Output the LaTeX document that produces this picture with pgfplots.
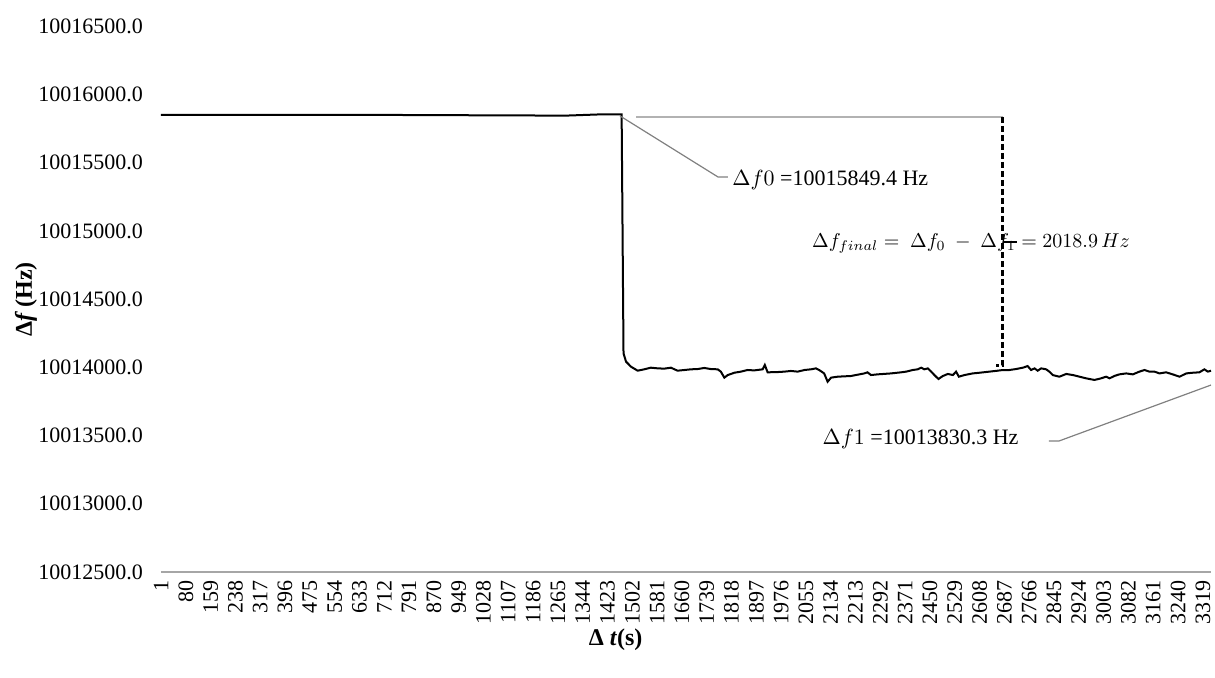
\documentclass[border=0pt]{standalone}
\usepackage{fontspec}
\setmainfont{Liberation Serif}
\usepackage{pgfplots}
\pgfplotsset{compat=1.18}
\def\myshift#1.#2\relax{\the\numexpr#1-10012500\relax}
\begin{document}
\begin{tikzpicture}
\useasboundingbox (-80.5pt,-52.5pt) rectangle (527pt,286pt);
\begin{axis}[
  scale only axis, width=525pt, height=272.8pt,
  xmin=1, xmax=3345, ymin=0, ymax=4000,
  ytick={0,500,1000,1500,2000,2500,3000,3500,4000},
  yticklabels={10012500.0,10013000.0,10013500.0,10014000.0,10014500.0,10015000.0,10015500.0,10016000.0,10016500.0},
  axis x line=bottom, axis y line=left,
  x axis line style={-, draw=gray!70, line width=0.6pt},
  y axis line style={draw=none},
  major tick length=0pt, tick style={draw=none},
  xtick={1,80,...,3319},
  xticklabel={\pgfmathprintnumber[fixed,precision=0,1000 sep={}]{\tick}},
  scaled x ticks=false, scaled y ticks=false,
  /pgf/number format/assume math mode=true,
  xticklabel style={rotate=90, anchor=east, font=\fontsize{11}{12}\selectfont, inner sep=4pt},
  yticklabel style={font=\fontsize{11}{12}\selectfont, xshift=-5.5pt},
  ylabel={\textbf{Δ\textit{f}\,(Hz)}},
  ylabel style={at={(axis description cs:-0.1286,0.5)}, anchor=center, font=\fontsize{12}{14}\selectfont},
  xlabel={\textbf{Δ \textit{t}(s)}},
  xlabel style={at={(axis description cs:0.433,-0.1245)}, anchor=center, font=\fontsize{12}{14}\selectfont},
  clip=false,
]
\addplot[black, line width=1pt,
  y filter/.code={\pgfmathfloattofixed{#1}\edef\mytmp{\expandafter\myshift\pgfmathresult.\relax}\pgfmathfloatparsenumber{\mytmp}}] coordinates {
(1,10015852) (600,10015852) (1290,10015846) (1400,10015855) (1468,10015855)
(1474,10014103) (1482,10014042) (1498,10014005) (1519,10013976) (1540,10013986)
(1561,10013998) (1583,10013993) (1604,10013991) (1625,10013998) (1646,10013976)
(1668,10013981) (1689,10013986) (1710,10013988) (1731,10013996) (1752,10013988)
(1774,10013986) (1784,10013969) (1795,10013925) (1806,10013944) (1827,10013961)
(1848,10013969) (1869,10013981) (1890,10013978) (1917,10013986) (1924,10014018)
(1933,10013964) (1965,10013966) (1986,10013969) (2007,10013974) (2029,10013969)
(2050,10013981) (2071,10013986) (2087,10013993) (2097,10013981) (2113,10013956)
(2124,10013895) (2135,10013925) (2156,10013932) (2198,10013937) (2241,10013956)
(2251,10013964) (2262,10013944) (2283,10013949) (2326,10013956) (2358,10013964)
(2374,10013969) (2395,10013981) (2411,10013986) (2422,10013998) (2432,10013986)
(2443,10013993) (2454,10013969) (2464,10013944) (2477,10013915) (2491,10013937)
(2507,10013952) (2523,10013944) (2533,10013969) (2542,10013932) (2560,10013944)
(2586,10013956) (2608,10013961) (2639,10013969) (2666,10013976) (2682,10013981)
(2703,10013981) (2724,10013988) (2746,10013998) (2761,10014010) (2772,10013981)
(2783,10013993) (2793,10013976) (2804,10013993) (2820,10013986) (2830,10013969)
(2841,10013944) (2862,10013932) (2884,10013952) (2905,10013944) (2926,10013932)
(2947,10013920) (2974,10013908) (2995,10013920) (3011,10013932) (3022,10013920)
(3037,10013937) (3053,10013949) (3075,10013956) (3096,10013949) (3117,10013969)
(3133,10013981) (3149,10013969) (3165,10013969) (3181,10013956) (3202,10013964)
(3223,10013949) (3245,10013932) (3266,10013956) (3287,10013961) (3308,10013964)
(3324,10013986) (3335,10013969) (3345,10013976)
};
% annotations
\draw[gray, line width=0.6pt] (rel axis cs:0.4371,0.836) -- (rel axis cs:0.5305,0.724) -- (rel axis cs:0.540,0.724);
\node[anchor=west, inner sep=0pt, font=\fontsize{11}{12}\selectfont] at (rel axis cs:0.5438,0.7185) {$\Delta f0$ =10015849.4 Hz};
\draw[gray!60, line width=0.9pt] (rel axis cs:0.4524,0.834) -- (rel axis cs:0.8019,0.834);
\draw[black, line width=1.5pt, dash pattern=on 3pt off 1.5pt] (rel axis cs:0.8019,0.834) -- (rel axis cs:0.8019,0.3794) -- (rel axis cs:0.7952,0.3794);
\node[inner sep=0pt, font=\fontsize{10.3}{12}\selectfont] at (rel axis cs:0.7714,0.603) {$\Delta f_{final} = \ \Delta f_0\ -\ \Delta f_1 = 2018.9\,Hz$};
\draw[black, line width=0.9pt] (rel axis cs:0.8019,0.6048) -- (rel axis cs:0.8152,0.6048);
\node[anchor=east, inner sep=0pt, font=\fontsize{11}{12}\selectfont] at (rel axis cs:0.817,0.2438) {$\Delta f1$ =10013830.3 Hz};
\draw[gray, line width=0.6pt] (rel axis cs:0.8457,0.2401) -- (rel axis cs:0.8552,0.2401) -- (rel axis cs:1.0,0.3427);
\end{axis}
\end{tikzpicture}
\end{document}
